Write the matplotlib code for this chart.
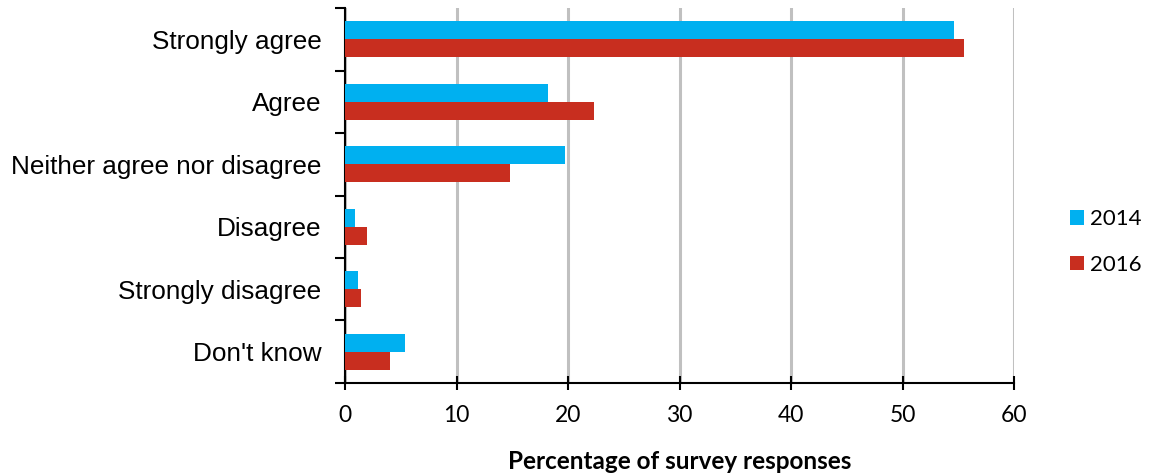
import matplotlib.pyplot as plt
import numpy as np

# survey answers, top to bottom
categories = ['Strongly agree', 'Agree', 'Neither agree nor disagree',
              'Disagree', 'Strongly disagree', "Don't know"]
values_2014 = [54.6, 18.2, 19.7, 0.85, 1.2, 5.4]
values_2016 = [55.5, 22.3, 14.8, 2.0, 1.4, 4.0]
x_ticks = [0, 10, 20, 30, 40, 50, 60]

fig = plt.figure(figsize=(11.49, 4.73), dpi=100)
ax = fig.add_axes([0.3003, 0.1903, 0.5822, 0.7927])

y = np.arange(len(categories))
h = 0.29
ax.barh(y - h / 2, values_2014, height=h, color='#00B0F0', label='2014', zorder=3)
ax.barh(y + h / 2, values_2016, height=h, color='#C82E1F', label='2016', zorder=3)

ax.set_ylim(len(categories) - 0.5, -0.5)
ax.set_xlim(0, 60)

# category labels sit in the middle, ticks on the boundaries
ax.set_yticks(y)
ax.set_yticklabels(categories, fontsize=18.8, family='Liberation Sans')
ax.tick_params(axis='y', which='major', length=0, pad=17)
ax.set_yticks(np.arange(-0.5, len(categories), 1), minor=True)
ax.tick_params(axis='y', which='minor', length=7, width=1.5, direction='out')

ax.set_xticks(x_ticks)
ax.set_xticklabels([str(t) for t in x_ticks], fontsize=16.5, family='Lato')
ax.tick_params(axis='x', length=10, width=1.5, direction='inout', pad=11)

ax.grid(axis='x', color='#C0C0C0', linewidth=2.2, zorder=0)
for side in ['top', 'right']:
    ax.spines[side].set_visible(False)
ax.spines['left'].set_linewidth(1.5)
ax.spines['bottom'].set_linewidth(1.5)

ax.set_xlabel('Percentage of survey responses', fontsize=17.5, fontweight='bold',
              family='Lato', labelpad=17)

fig.legend(loc='center left', bbox_to_anchor=(0.931, 0.488), frameon=False,
           prop={'family': 'Lato', 'size': 16}, handlelength=0.63, handleheight=0.63,
           handletextpad=0.3, labelspacing=1.15, borderpad=0, borderaxespad=0)

plt.savefig('out.png', dpi=100)
